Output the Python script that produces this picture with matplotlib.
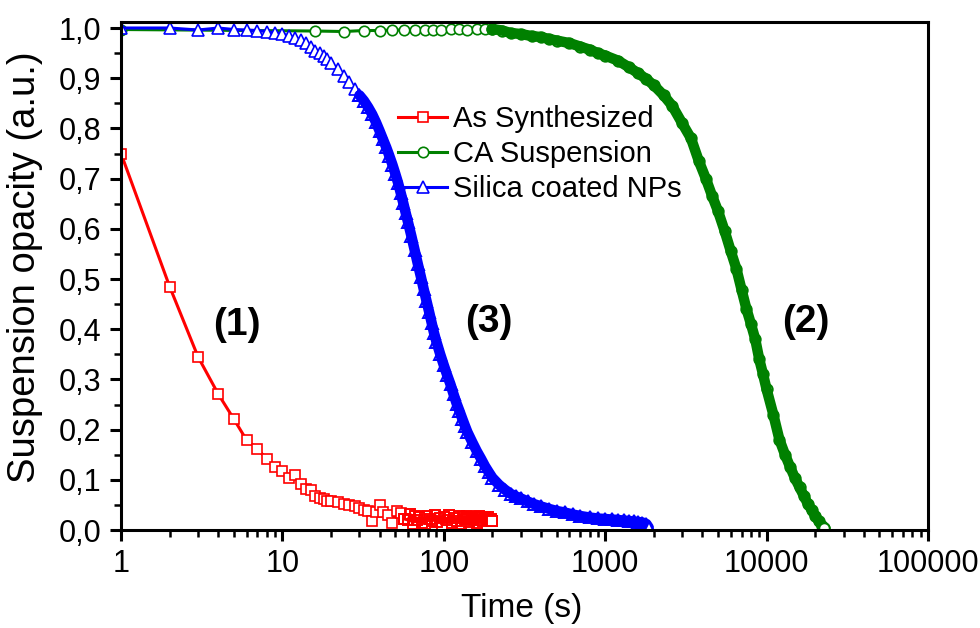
import matplotlib
matplotlib.use('Agg')
import matplotlib.pyplot as plt
from matplotlib.ticker import FuncFormatter, LogLocator, MultipleLocator

plt.rcParams['font.family'] = ['Liberation Sans', 'DejaVu Sans']

# As synthesized suspension (1)
t_as = [1, 2, 3, 4, 5, 6, 7, 8, 9, 10, 11, 12, 13, 14, 15, 16, 17, 18, 19, 20,
        22, 24, 26, 28, 30, 32, 34, 36, 38, 40, 42, 45, 48, 51, 54,
        57, 60, 62, 64, 66, 68, 70, 73, 76, 79, 82, 85, 88, 91, 94, 97, 100,
        104, 108, 112, 116, 120, 124, 128, 132, 136, 140, 144, 148, 152, 156,
        160, 164, 168, 172, 176, 180, 184, 188, 192, 196, 199]
op_as = [0.750, 0.485, 0.345, 0.271, 0.221, 0.179, 0.162, 0.141, 0.126, 0.118,
         0.104, 0.109, 0.092, 0.082, 0.080, 0.067, 0.064, 0.061, 0.058, 0.057,
         0.055, 0.052, 0.050, 0.047, 0.044, 0.040, 0.038, 0.017, 0.036, 0.050,
         0.035, 0.030, 0.014, 0.038, 0.033,
         0.022, 0.020, 0.031, 0.012, 0.028, 0.019, 0.025, 0.014, 0.013, 0.027,
         0.021, 0.018, 0.030, 0.016, 0.024, 0.011, 0.026, 0.020, 0.029, 0.015,
         0.023, 0.018, 0.027, 0.013, 0.025, 0.021, 0.028, 0.016, 0.024, 0.019,
         0.026, 0.014, 0.027, 0.020, 0.023, 0.017, 0.025, 0.021, 0.026, 0.019,
         0.022, 0.017]

# CA suspension (2)
t_ca = [1, 16, 24, 32, 40, 48, 57, 66, 76, 86, 96, 110, 125, 140, 160, 180, 200,
        230, 260, 300, 350, 400, 450, 500, 600, 700, 800, 900, 1000, 1200, 1400,
        1600, 1800, 2000, 2300, 2600, 3000, 3400, 3800, 4200, 4600, 5000, 5500,
        6000, 6500, 7000, 7500, 8000, 8500, 9000, 9500, 10000, 11000, 12000,
        13000, 14000, 15000, 16000, 17000, 18000, 19000, 20000, 21000, 22000, 22700]
op_ca = [0.997, 0.994, 0.993, 0.995, 0.995, 0.996, 0.996, 0.996, 0.997, 0.997,
         0.997, 0.998, 0.998, 0.997, 0.998, 0.999, 0.998, 0.995, 0.990, 0.988,
         0.984, 0.982, 0.978, 0.975, 0.970, 0.963, 0.957, 0.950, 0.945, 0.935,
         0.922, 0.910, 0.898, 0.886, 0.866, 0.845, 0.810, 0.780, 0.735, 0.700,
         0.665, 0.635, 0.595, 0.555, 0.520, 0.478, 0.440, 0.410, 0.380, 0.340,
         0.310, 0.280, 0.230, 0.180, 0.150, 0.125, 0.103, 0.085, 0.068, 0.052,
         0.040, 0.028, 0.018, 0.009, 0.004]

# Silica coated NPs (3)
t_si = [1, 2, 3, 4, 5, 6, 7, 8, 9, 10, 11, 12, 13, 14, 15, 16, 17, 18, 19, 20,
        22, 24, 26, 28, 30, 32, 34, 36, 38, 40, 42, 44, 46, 48, 50, 52, 54, 56,
        58, 60, 63, 66, 69, 72, 75, 78, 81, 84, 87, 90, 95, 100, 105, 110, 115,
        120, 125, 130, 135, 140, 150, 160, 170, 180, 190, 200, 220, 240, 260, 280,
        300, 330, 360, 400, 450, 500, 560, 630, 700, 800, 900, 1000, 1100, 1200,
        1300, 1400, 1500, 1600, 1700, 1800, 1860]
op_si = [1.000, 1.000, 0.996, 1.000, 0.997, 0.996, 0.995, 0.993, 0.990, 0.988,
         0.984, 0.980, 0.976, 0.970, 0.962, 0.955, 0.950, 0.944, 0.938, 0.930,
         0.918, 0.905, 0.892, 0.878, 0.866, 0.855, 0.842, 0.828, 0.812, 0.795,
         0.778, 0.762, 0.745, 0.728, 0.710, 0.692, 0.672, 0.652, 0.632, 0.613,
         0.585, 0.557, 0.530, 0.505, 0.480, 0.457, 0.435, 0.413, 0.392, 0.375,
         0.350, 0.328, 0.308, 0.290, 0.270, 0.252, 0.237, 0.222, 0.208, 0.195,
         0.175, 0.157, 0.142, 0.127, 0.115, 0.104, 0.090, 0.080, 0.072, 0.067,
         0.063, 0.057, 0.052, 0.047, 0.042, 0.038, 0.035, 0.031, 0.028, 0.025,
         0.023, 0.022, 0.021, 0.020, 0.019, 0.018, 0.017, 0.016, 0.015, 0.012,
         0.005]


def draw(ax, t, y, color, marker, ms, label, band_from, band_lw):
    # sparse part: thin line, open markers with white fill
    sp = [i for i, v in enumerate(t) if v <= band_from]
    ax.plot([t[i] for i in sp], [y[i] for i in sp], color=color, lw=2.2,
            marker=marker, ms=ms, mfc='white', mec=color, mew=1.2, label=label)
    # dense part: overlapping markers merge into a thick band
    dn = [i for i, v in enumerate(t) if v >= band_from]
    ax.plot([t[i] for i in dn], [y[i] for i in dn], color=color, lw=band_lw,
            solid_capstyle='round', marker=marker, ms=ms, mfc='none',
            mec=color, mew=1.4)
    # last point sits on the axis with white fill
    ax.plot(t[-1:], y[-1:], ls='none', marker=marker, ms=ms, mfc='white',
            mec=color, mew=1.4)


fig = plt.figure(figsize=(9.8, 6.28), dpi=100)
ax = fig.add_axes([0.1235, 0.156, 0.8235, 0.809])

draw(ax, t_as, op_as, '#ff0000', 's', 7.5, 'As Synthesized', 57, 2.2)
draw(ax, t_ca, op_ca, '#008000', 'o', 7.5, 'CA Suspension', 200, 7.5)
draw(ax, t_si, op_si, '#0000ff', '^', 8.5, 'Silica coated NPs', 30, 7.5)

ax.set_xscale('log')
ax.set_xlim(1, 100000)
ax.set_ylim(0, 1.012)

ax.xaxis.set_major_locator(LogLocator(base=10, numticks=10))
ax.xaxis.set_minor_locator(LogLocator(base=10, subs=range(2, 10), numticks=20))
ax.xaxis.set_major_formatter(FuncFormatter(lambda v, p: f"{int(round(v))}"))
ax.yaxis.set_major_locator(MultipleLocator(0.1))
ax.yaxis.set_minor_locator(MultipleLocator(0.05))
ax.yaxis.set_major_formatter(FuncFormatter(lambda v, p: f"{v:.1f}".replace('.', ',')))

for s in ax.spines.values():
    s.set_linewidth(2.2)
ax.tick_params(which='major', direction='out', length=8, width=2.2,
               labelsize=22, pad=6, top=False, right=False)
ax.tick_params(which='minor', direction='out', length=5, width=1.8,
               top=False, right=False)

ax.set_xlabel('Time (s)', fontsize=24, va='center')
ax.xaxis.set_label_coords(0.497, -0.154)
ax.set_ylabel('Suspension opacity (a.u.)', fontsize=27.5, va='center', ha='center')
ax.yaxis.set_label_coords(-0.119, 0.517)

ax.legend(loc='upper left', bbox_to_anchor=(0.343, 0.837), frameon=False,
          fontsize=21, handlelength=1.7, handletextpad=0.2, labelspacing=0.25,
          borderaxespad=0, borderpad=0)

ax.text(5.25, 0.408, '(1)', fontsize=28, fontweight='bold', ha='center', va='center')
ax.text(189, 0.414, '(3)', fontsize=28, fontweight='bold', ha='center', va='center')
ax.text(17500, 0.414, '(2)', fontsize=28, fontweight='bold', ha='center', va='center')

fig.savefig('out.png', dpi=100)
